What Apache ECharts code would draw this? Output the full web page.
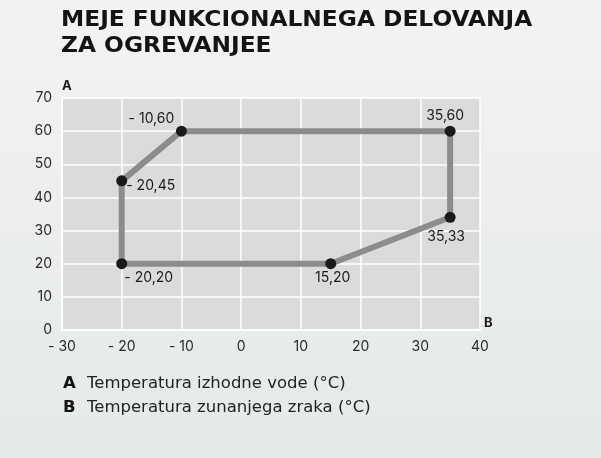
<!DOCTYPE html>
<html><head><meta charset="utf-8">
<script src="https://cdn.jsdelivr.net/npm/echarts@6/dist/echarts.min.js"></script>
<style>html,body{margin:0;padding:0;background:#eaecec;}#c{width:601px;height:458px;}</style>
</head><body><div id="c"></div>
<script>
const xValues = [-20, -20, -10, 35, 35, 15, -20];
const yValues = [20, 45, 60, 60, 34, 20, 20];
const pointLabels = ['- 20,20', '- 20,45', '- 10,60', '35,60', '35,33', '15,20', ''];
const labelPos = ['bottom', 'right', 'top', 'top', 'bottom', 'bottom', 'bottom'];
const labelOffset = [[27, -4], [-7, 5], [-30, 6], [-5, 3], [-4, 1], [2, -4], [0, 0]];
const xTicks = [-30, -20, -10, 0, 10, 20, 30, 40];
const yTicks = [0, 10, 20, 30, 40, 50, 60, 70];

const chart = echarts.init(document.getElementById('c'));
const font = 'Inter, Roboto, sans-serif';
const wide = '"DejaVu Sans", sans-serif';
const data = xValues.map((x, i) => ({
  value: [x, yValues[i]],
  symbolSize: i === 6 ? 0 : 11,
  label: {show: pointLabels[i] !== '', formatter: pointLabels[i], position: labelPos[i], offset: labelOffset[i]}
}));
chart.setOption({
  backgroundColor: new echarts.graphic.LinearGradient(0, 0, 0, 1, [{offset: 0, color: '#f2f3f3'}, {offset: 1, color: '#e6e9e9'}]),
  animation: false,
  grid: {left: 62, right: 121, top: 98, bottom: 128, show: true, backgroundColor: '#dadcdc', borderWidth: 0},
  xAxis: {
    type: 'value', min: xTicks[0], max: xTicks[xTicks.length - 1], interval: 10,
    axisLine: {show: true, onZero: false, lineStyle: {color: '#ffffff', width: 2}},
    axisTick: {show: false},
    splitLine: {lineStyle: {color: '#ffffff', width: 1.5}},
    axisLabel: {color: '#2a2a2a', fontSize: 14, fontFamily: font, margin: 10,
      formatter: v => v < 0 ? '- ' + Math.abs(v) : String(v)},
    name: 'B', nameLocation: 'end', nameGap: 4,
    nameTextStyle: {fontWeight: 'bold', fontSize: 13, color: '#1a1a1a', fontFamily: font, verticalAlign: 'bottom', padding: [0, 0, 0, 0]}
  },
  yAxis: {
    type: 'value', min: yTicks[0], max: yTicks[yTicks.length - 1], interval: 10,
    axisLine: {show: true, onZero: false, lineStyle: {color: '#ffffff', width: 2}},
    axisTick: {show: false},
    splitLine: {lineStyle: {color: '#ffffff', width: 1.5}},
    axisLabel: {color: '#2a2a2a', fontSize: 14, fontFamily: font, margin: 10},
    name: 'A', nameLocation: 'end', nameGap: 5,
    nameTextStyle: {fontWeight: 'bold', fontSize: 13, color: '#1a1a1a', fontFamily: font, align: 'left', padding: [0, 0, 0, 0]}
  },
  series: [{
    type: 'line', data: data, symbol: 'circle',
    lineStyle: {color: '#8c8c8e', width: 6},
    itemStyle: {color: '#1a1a1a'},
    label: {color: '#1a1a1a', fontSize: 14, fontFamily: font, distance: 6},
    z: 5
  }],
  graphic: [
    {type: 'text', x: 61, y: 7, scaleX: 1.06, style: {text: 'MEJE FUNKCIONALNEGA DELOVANJA\nZA OGREVANJEE', font: 'bold 22px ' + wide, fill: '#141414', lineHeight: 26}},
    {type: 'text', x: 63, y: 372, style: {
      text: '{b|A}{t|Temperatura izhodne vode (°C)}\n{b|B}{t|Temperatura zunanjega zraka (°C)}',
      rich: {b: {font: 'bold 16.5px ' + wide, fill: '#141414', lineHeight: 24, width: 24}, t: {font: '16.5px ' + wide, fill: '#222', lineHeight: 24}}
    }}
  ]
});
</script></body></html>
